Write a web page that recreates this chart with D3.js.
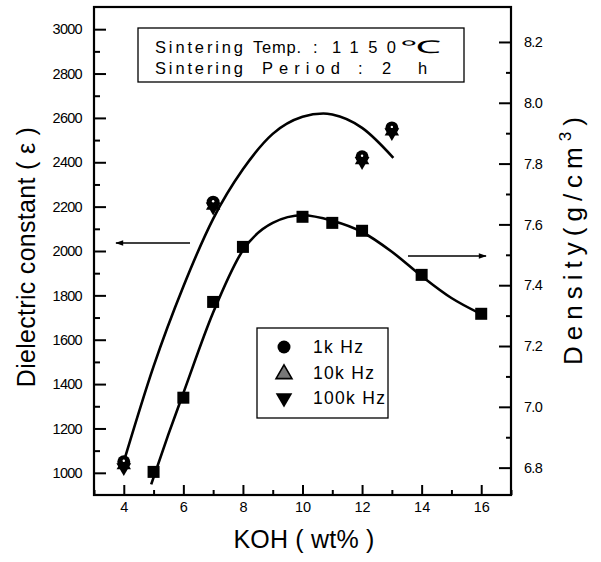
<!DOCTYPE html>
<html><head><meta charset="utf-8">
<script src="https://cdn.jsdelivr.net/npm/d3@7"></script>
<style>
html,body{margin:0;padding:0;background:#fff;}
svg text{font-family:"Liberation Sans",Arial,sans-serif;fill:#000;}
</style></head>
<body><svg id="c" width="601" height="562"></svg>
<script>
// ---- data ----
const koh = [4, 7, 12, 13];
const eps1k = [1050, 2220, 2425, 2555];
const eps10k = [1035, 2205, 2410, 2540];
const eps100k = [1015, 2190, 2395, 2525];
const densKoh = [5, 6, 7, 8, 10, 11, 12, 14, 16];
const density = [6.786, 7.03, 7.345, 7.526, 7.625, 7.605, 7.579, 7.434, 7.306];
// fitted curves as drawn in the figure
const epsFitX = [4, 5, 6, 7, 8, 9, 10, 10.7, 11, 12, 13.05];
const epsFitY = [1050, 1480, 1840, 2145, 2368, 2528, 2605, 2620, 2615, 2555, 2420];
const denFitX = [4.92, 5.5, 6, 7, 8, 9, 10, 11, 12, 13, 14, 15, 16];
const denFitY = [6.745, 6.91, 7.045, 7.31, 7.515, 7.605, 7.63, 7.612, 7.575, 7.51, 7.43, 7.358, 7.305];
const xTicks = [4, 6, 8, 10, 12, 14, 16];
const xMinor = [3, 5, 7, 9, 11, 13, 15, 17];
const yLTicks = [1000, 1200, 1400, 1600, 1800, 2000, 2200, 2400, 2600, 2800, 3000];
const yLMinor = [1100, 1300, 1500, 1700, 1900, 2100, 2300, 2500, 2700, 2900];
const yRTicks = [6.8, 7.0, 7.2, 7.4, 7.6, 7.8, 8.0, 8.2];
const yRMinor = [6.9, 7.1, 7.3, 7.5, 7.7, 7.9, 8.1];
const legendLabels = ["1k Hz", "10k Hz", "100k Hz"];

// ---- layout ----
const L = 94, R = 511, T = 7, B = 495;
const svg = d3.select("#c");
const x = d3.scaleLinear().domain([3, 17]).range([L, R]);
const yL = d3.scaleLinear().domain([900, 3100]).range([B, T]);
const yR = d3.scaleLinear().domain([6.71, 8.315]).range([B, T]);

// axes (ticks inward)
const gx = svg.append("g").attr("transform", `translate(0,${B})`)
  .call(d3.axisBottom(x).tickValues(xTicks).tickSizeInner(-10).tickSizeOuter(0).tickPadding(7).tickFormat(d3.format("d")));
svg.append("g").attr("transform", `translate(0,${B})`)
  .call(d3.axisBottom(x).tickValues(xMinor).tickSizeInner(-5).tickSizeOuter(0).tickFormat(""));
const gl = svg.append("g").attr("transform", `translate(${L},0)`)
  .call(d3.axisLeft(yL).tickValues(yLTicks).tickSizeInner(-12).tickSizeOuter(0).tickPadding(12).tickFormat(d3.format("d")));
svg.append("g").attr("transform", `translate(${L},0)`)
  .call(d3.axisLeft(yL).tickValues(yLMinor).tickSizeInner(-6).tickSizeOuter(0).tickFormat(""));
const gr = svg.append("g").attr("transform", `translate(${R},0)`)
  .call(d3.axisRight(yR).tickValues(yRTicks).tickSizeInner(-12).tickSizeOuter(0).tickPadding(13).tickFormat(d3.format(".1f")));
svg.append("g").attr("transform", `translate(${R},0)`)
  .call(d3.axisRight(yR).tickValues(yRMinor).tickSizeInner(-5).tickSizeOuter(0).tickFormat(""));
svg.selectAll(".domain").remove();
svg.selectAll(".tick line").attr("stroke", "#000").attr("stroke-width", 2);
svg.selectAll(".tick text").attr("font-size", 14.5).attr("letter-spacing", -0.7)
  .style("font-family", '"Liberation Sans",Arial,sans-serif').attr("fill", "#000");
gx.selectAll(".tick text").attr("letter-spacing", 0);

// frame
svg.append("rect").attr("x", L).attr("y", T).attr("width", R - L).attr("height", B - T)
  .attr("fill", "none").attr("stroke", "#000").attr("stroke-width", 2.2);

// curves
const lineL = d3.line().x(d => x(d[0])).y(d => yL(d[1])).curve(d3.curveMonotoneX);
const lineR = d3.line().x(d => x(d[0])).y(d => yR(d[1])).curve(d3.curveMonotoneX);
svg.append("path").attr("d", lineL(epsFitX.map((v, i) => [v, epsFitY[i]])))
  .attr("fill", "none").attr("stroke", "#000").attr("stroke-width", 2.6);
svg.append("path").attr("d", lineR(denFitX.map((v, i) => [v, denFitY[i]])))
  .attr("fill", "none").attr("stroke", "#000").attr("stroke-width", 2.6);

// markers
const sym = (type, size) => d3.symbol().type(type).size(size)();
const triDown = d3.symbol().type(d3.symbolTriangle).size(95)();
svg.append("g").selectAll("path").data(koh).join("path")
  .attr("d", triDown).attr("transform", (d, i) => `translate(${x(d)},${yL(eps100k[i]) - 2}) rotate(180)`).attr("fill", "#000");
svg.append("g").selectAll("path").data(koh).join("path")
  .attr("d", sym(d3.symbolTriangle, 90)).attr("transform", (d, i) => `translate(${x(d)},${yL(eps10k[i])})`).attr("fill", "#000");
svg.append("g").selectAll("circle").data(koh).join("circle")
  .attr("cx", d => x(d)).attr("cy", (d, i) => yL(eps1k[i])).attr("r", 6.5).attr("fill", "#000");
svg.append("g").selectAll("circle").data(koh).join("circle")
  .attr("cx", d => x(d)).attr("cy", (d, i) => yL(eps1k[i]) - 1).attr("r", 1.2).attr("fill", "#fff");
svg.append("g").selectAll("rect").data(densKoh).join("rect")
  .attr("x", d => x(d) - 6).attr("y", (d, i) => yR(density[i]) - 6).attr("width", 12).attr("height", 12).attr("fill", "#000");

// arrows
svg.append("defs").append("marker").attr("id", "ah").attr("viewBox", "0 0 10 10")
  .attr("refX", 9).attr("refY", 5).attr("markerWidth", 12).attr("markerHeight", 8).attr("markerUnits", "userSpaceOnUse")
  .attr("orient", "auto").append("path").attr("d", "M0,1.5 L10,5 L0,8.5 Z").attr("fill", "#000");
svg.append("line").attr("x1", 190).attr("y1", 243).attr("x2", 116).attr("y2", 243)
  .attr("stroke", "#000").attr("stroke-width", 1.6).attr("marker-end", "url(#ah)");
svg.append("line").attr("x1", 408).attr("y1", 256).attr("x2", 486).attr("y2", 256)
  .attr("stroke", "#000").attr("stroke-width", 1.6).attr("marker-end", "url(#ah)");

// info box
svg.append("rect").attr("x", 138).attr("y", 28).attr("width", 326).attr("height", 54)
  .attr("fill", "#fff").attr("stroke", "#000").attr("stroke-width", 1.3);
// [x, baseline, text, textLength or 0]
const info = [
  [155, 53, "Sintering", 88], [253, 53, "Temp.", 48], [313, 53, ":", 0], [332, 53, "1150", 64],
  [155, 74, "Sintering", 88], [262, 74, "Period", 78], [358, 74, ":", 0], [382, 74, "2", 0], [418, 74, "h", 0]
];
svg.append("g").selectAll("text").data(info).join("text")
  .attr("x", d => d[0]).attr("y", d => d[1]).text(d => d[2])
  .attr("font-size", 16.5)
  .each(function (d) { if (d[3]) d3.select(this).attr("textLength", d[3]).attr("lengthAdjust", "spacing"); });
svg.append("text").attr("x", 400).attr("y", 53).attr("font-size", 17.5)
  .attr("textLength", 40).attr("lengthAdjust", "spacingAndGlyphs").text("℃");

// legend
svg.append("rect").attr("x", 257).attr("y", 328).attr("width", 131).attr("height", 90)
  .attr("fill", "#fff").attr("stroke", "#000").attr("stroke-width", 1.3);
const ly = [347, 373, 398];
svg.append("circle").attr("cx", 284).attr("cy", ly[0]).attr("r", 6.5).attr("fill", "#000");
svg.append("path").attr("d", sym(d3.symbolTriangle, 110)).attr("transform", `translate(284,${ly[1] + 1})`)
  .attr("fill", "#777").attr("stroke", "#000").attr("stroke-width", 1.6);
svg.append("path").attr("d", sym(d3.symbolTriangle, 120)).attr("transform", `translate(284,${ly[2]}) rotate(180)`)
  .attr("fill", "#000");
svg.append("g").selectAll("text").data(legendLabels).join("text")
  .attr("x", 313).attr("y", (d, i) => ly[i] + 6).text(d => d)
  .attr("font-size", 17.5).attr("letter-spacing", 1.3);

// axis titles
svg.append("text").attr("x", 304).attr("y", 548).attr("text-anchor", "middle")
  .attr("font-size", 25).attr("letter-spacing", 0.2).text("KOH ( wt% )");
svg.append("text").attr("transform", "translate(35,257) rotate(-90)").attr("text-anchor", "middle")
  .attr("font-size", 25).attr("letter-spacing", 0.3).text("Dielectric constant ( ε )");
const rt = svg.append("text").attr("transform", "translate(582,238) rotate(-90)").attr("text-anchor", "middle")
  .attr("font-size", 26).attr("letter-spacing", 6);
rt.append("tspan").text("Density(g/cm");
rt.append("tspan").attr("font-size", 17).attr("dy", -11).text("3");
rt.append("tspan").attr("dy", 11).text(")");
</script></body></html>
